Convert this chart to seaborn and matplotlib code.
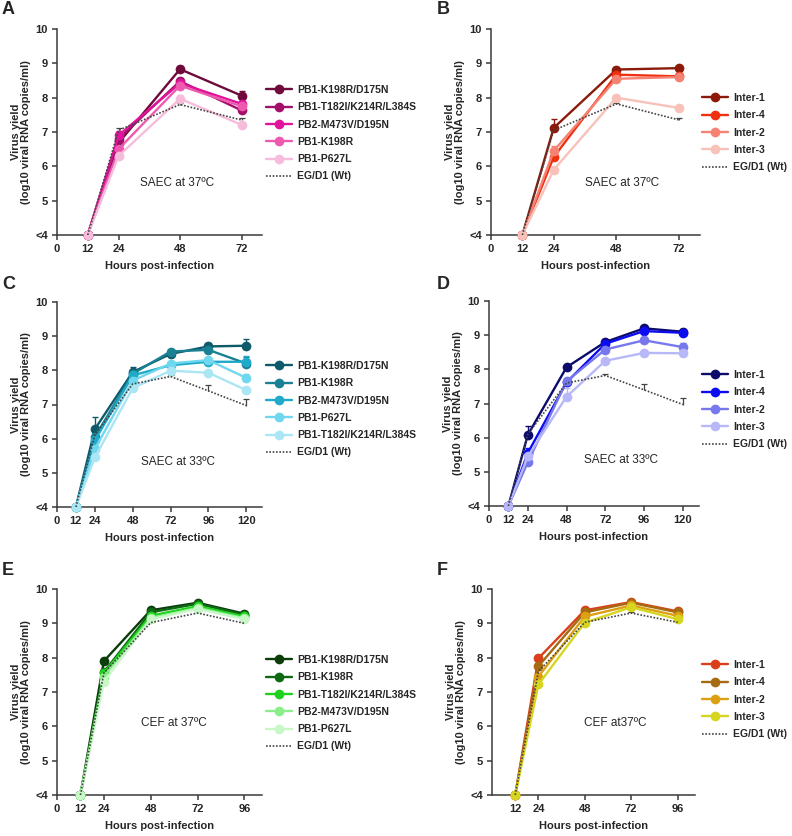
import numpy as np
import pandas as pd
import matplotlib
matplotlib.use('Agg')
import matplotlib.pyplot as plt
from matplotlib.lines import Line2D
import seaborn as sns

sns.set_style('ticks')
plt.rcParams['font.family'] = ['Liberation Sans', 'DejaVu Sans']
plt.rcParams['font.weight'] = 'bold'

# %% data ---------------------------------------------------------------
hours_37 = [12, 24, 48, 72]
hours_33 = [12, 24, 48, 72, 96, 120]
hours_cef = [12, 24, 48, 72, 96]

wt_label = 'EG/D1 (Wt)'

# A - SAEC 37ºC, PB mutants
a_names = ['PB1-K198R/D175N', 'PB1-T182I/K214R/L384S', 'PB2-M473V/D195N', 'PB1-K198R', 'PB1-P627L']
a_colors = ['#6e0a3c', '#a3106a', '#e0149a', '#ee5aaf', '#f6bcdb']
a_vals = [[4, 6.68, 8.83, 8.06],
          [4, 6.80, 8.48, 7.63],
          [4, 6.90, 8.42, 7.82],
          [4, 6.50, 8.35, 7.75],
          [4, 6.30, 7.97, 7.21]]
a_err = [[0, 0.10, 0.08, 0.12],
         [0, 0.15, 0.10, 0.08],
         [0, 0.12, 0.10, 0.08],
         [0, 0.10, 0.08, 0.08],
         [0, 0.08, 0.10, 0.05]]
a_wt = [4, 7.05, 7.80, 7.35]
a_wt_err = [0, 0.08, 0.04, 0.05]

# B - SAEC 37ºC, intermediates
b_names = ['Inter-1', 'Inter-4', 'Inter-2', 'Inter-3']
b_colors = ['#8b1a0a', '#f03010', '#f58272', '#f8c2ba']
b_vals = [[4, 7.12, 8.82, 8.86],
          [4, 6.27, 8.67, 8.62],
          [4, 6.45, 8.55, 8.60],
          [4, 5.90, 8.00, 7.70]]
b_err = [[0, 0.27, 0.08, 0.05],
         [0, 0.05, 0.05, 0.05],
         [0, 0.15, 0.05, 0.05],
         [0, 0.05, 0.05, 0.10]]
b_wt = [4, 7.05, 7.82, 7.35]
b_wt_err = [0, 0.05, 0.03, 0.06]

# C - SAEC 33ºC, PB mutants
c_names = ['PB1-K198R/D175N', 'PB1-K198R', 'PB2-M473V/D195N', 'PB1-P627L', 'PB1-T182I/K214R/L384S']
c_colors = ['#0c5a6a', '#1a8093', '#1eaac8', '#6fd8ee', '#aae6f4']
c_vals = [[4, 6.28, 7.95, 8.48, 8.70, 8.72],
          [4, 6.05, 7.90, 8.55, 8.60, 8.20],
          [4, 5.95, 7.85, 8.15, 8.25, 8.25],
          [4, 5.70, 7.70, 8.20, 8.30, 7.78],
          [4, 5.45, 7.48, 7.99, 7.93, 7.42]]
c_err = [[0, 0.35, 0.15, 0.05, 0.05, 0.20],
         [0, 0.10, 0.10, 0.05, 0.05, 0.20],
         [0, 0.10, 0.05, 0.05, 0.05, 0.18],
         [0, 0.10, 0.05, 0.05, 0.05, 0.10],
         [0, 0.08, 0.05, 0.05, 0.05, 0.05]]
c_wt = [4, 6.10, 7.60, 7.82, 7.40, 6.97]
c_wt_err = [0, 0.05, 0.05, 0.04, 0.17, 0.20]

# D - SAEC 33ºC, intermediates
d_names = ['Inter-1', 'Inter-4', 'Inter-2', 'Inter-3']
d_colors = ['#0b0b6b', '#0c0cf0', '#7878ee', '#b8b8f8']
d_vals = [[4, 6.08, 8.06, 8.80, 9.20, 9.10],
          [4, 5.55, 7.62, 8.75, 9.12, 9.07],
          [4, 5.28, 7.65, 8.58, 8.85, 8.65],
          [4, 5.45, 7.20, 8.25, 8.48, 8.47]]
d_err = [[0, 0.25, 0.08, 0.04, 0.08, 0.08],
         [0, 0.15, 0.10, 0.05, 0.05, 0.05],
         [0, 0.05, 0.10, 0.05, 0.05, 0.12],
         [0, 0.05, 0.25, 0.05, 0.04, 0.04]]
d_wt = [4, 6.10, 7.60, 7.82, 7.40, 6.97]
d_wt_err = [0, 0.05, 0.05, 0.05, 0.17, 0.18]

# E - CEF 37ºC, PB mutants
e_names = ['PB1-K198R/D175N', 'PB1-K198R', 'PB1-T182I/K214R/L384S', 'PB2-M473V/D195N', 'PB1-P627L']
e_colors = ['#0b3d0b', '#0e6a12', '#1ed21e', '#8aee8a', '#c8f7c8']
e_vals = [[4, 7.90, 9.38, 9.60, 9.28],
          [4, 7.58, 9.32, 9.57, 9.25],
          [4, 7.55, 9.22, 9.50, 9.20],
          [4, 7.45, 9.15, 9.45, 9.15],
          [4, 7.30, 9.12, 9.42, 9.12]]
e_err = [[0, 0.05, 0.05, 0.05, 0.05]] * 5
e_wt = [4, 7.55, 9.02, 9.30, 9.00]
e_wt_err = [0, 0.05, 0.03, 0.03, 0.03]

# F - CEF 37ºC, intermediates
f_names = ['Inter-1', 'Inter-4', 'Inter-2', 'Inter-3']
f_colors = ['#d9401a', '#a66a10', '#dca012', '#d6d620']
f_vals = [[4, 7.98, 9.38, 9.62, 9.35],
          [4, 7.75, 9.32, 9.60, 9.32],
          [4, 7.45, 9.20, 9.52, 9.22],
          [4, 7.22, 9.02, 9.47, 9.12]]
f_err = [[0, 0.05, 0.05, 0.05, 0.05]] * 4
f_wt = [4, 7.60, 9.03, 9.30, 9.03]
f_wt_err = [0, 0.05, 0.03, 0.03, 0.03]

# %% figure ---------------------------------------------------------------
W, H = 792, 836
fig = plt.figure(figsize=(W / 100, H / 100), dpi=100)

def px_axes(left, top, right, bottom):
    return fig.add_axes([left / W, 1 - bottom / H, (right - left) / W, (bottom - top) / H])

WT_COLOR = '#444444'
AX_COLOR = '#3a3a3a'

def panel(ax, hours, names, colors, vals, errs, wt, wt_err, xticks, xlim,
          note, note_xy, letter, letter_xy, leg_xy):
    rows = []
    for n, v in zip(names, vals):
        for h, y in zip(hours, v):
            rows.append({'hours': h, 'yield': y, 'strain': n})
    df = pd.DataFrame(rows)

    # upper-only error bars
    for c, v, e in zip(colors, vals, errs):
        v = np.array(v); e = np.array(e)
        m = e > 0
        h = np.array(hours)[m]
        ax.vlines(h, v[m], v[m] + e[m], color=c, lw=1.0, zorder=2)
        ax.plot(h, v[m] + e[m], ls='none', marker='_', ms=5, mew=1.0, color=c, zorder=2)
    wv = np.array(wt); we = np.array(wt_err); m = we > 0
    ax.vlines(np.array(hours)[m], wv[m], wv[m] + we[m], color=WT_COLOR, lw=0.9, zorder=2)
    ax.plot(np.array(hours)[m], wv[m] + we[m], ls='none', marker='_', ms=5, mew=0.9,
            color=WT_COLOR, zorder=2)

    sns.lineplot(data=df, x='hours', y='yield', hue='strain', hue_order=names,
                 palette=colors, marker='o', markersize=7, markeredgewidth=0,
                 linewidth=1.7, legend=False, errorbar=None, ax=ax, clip_on=False,
                 zorder=3)
    ax.plot(hours, wt, color=WT_COLOR, linestyle=(0, (1, 1)), lw=1.2, zorder=4)

    ax.set_xlim(*xlim)
    ax.set_ylim(4, 10)
    ax.set_xticks(xticks)
    ax.set_xticklabels([str(t) for t in xticks])
    ax.set_yticks([4, 5, 6, 7, 8, 9, 10])
    ax.set_yticklabels(['<4', '5', '6', '7', '8', '9', '10'])
    ax.set_xlabel('Hours post-infection', fontsize=8, fontweight='bold', labelpad=5)
    ax.set_ylabel('Virus yield\n(log10 viral RNA copies/ml)', fontsize=8,
                  fontweight='bold', labelpad=3, linespacing=1.0)
    sns.despine(ax=ax)
    for s in ['left', 'bottom']:
        ax.spines[s].set_color(AX_COLOR)
        ax.spines[s].set_linewidth(1.1)
    ax.tick_params(axis='both', direction='out', length=3.5, width=1.1, color=AX_COLOR,
                   labelsize=8, pad=3)
    for lab in ax.get_xticklabels() + ax.get_yticklabels():
        lab.set_fontweight('bold')

    ax.text(note_xy[0], note_xy[1], note, fontsize=8.5, fontweight='normal',
            ha='center', va='center')
    fig.text(letter_xy[0] / W, 1 - letter_xy[1] / H, letter, fontsize=13,
             fontweight='bold', ha='left', va='top')

    handles = [Line2D([], [], color=c, marker='o', ms=7, mew=0, lw=1.7) for c in colors]
    handles.append(Line2D([], [], color=WT_COLOR, linestyle=(0, (1, 1)), lw=1.2))
    fig.legend(handles, names + [wt_label], loc='upper left',
               bbox_to_anchor=(leg_xy[0] / W, 1 - leg_xy[1] / H),
               bbox_transform=fig.transFigure, frameon=False, borderpad=0,
               borderaxespad=0, handlelength=2.5, handletextpad=0.5,
               labelspacing=0.7, prop={'size': 7.5, 'weight': 'bold'})

axA = px_axes(57, 29, 262, 235)
panel(axA, hours_37, a_names, a_colors, a_vals, a_err, a_wt, a_wt_err,
      [0, 12, 24, 48, 72], (0, 80), 'SAEC at 37ºC', (47, 5.5), 'A', (2, 1), (266, 85))

axB = px_axes(491, 29, 700, 235)
panel(axB, hours_37, b_names, b_colors, b_vals, b_err, b_wt, b_wt_err,
      [0, 12, 24, 48, 72], (0, 80), 'SAEC at 37ºC', (50, 5.5), 'B', (437, 1), (702, 93))

axC = px_axes(57, 302, 262, 507)
panel(axC, hours_33, c_names, c_colors, c_vals, c_err, c_wt, c_wt_err,
      [0, 12, 24, 48, 72, 96, 120], (0, 130), 'SAEC at 33ºC', (77, 5.32), 'C', (2, 276), (266, 361))

axD = px_axes(489, 301, 699, 506)
panel(axD, hours_33, d_names, d_colors, d_vals, d_err, d_wt, d_wt_err,
      [0, 12, 24, 48, 72, 96, 120], (0, 130), 'SAEC at 33ºC', (82, 5.35), 'D', (437, 276), (702, 370))

axE = px_axes(57, 589, 262, 795)
panel(axE, hours_cef, e_names, e_colors, e_vals, e_err, e_wt, e_wt_err,
      [0, 12, 24, 48, 72, 96], (0, 105), 'CEF at 37ºC', (60, 6.1), 'E', (2, 562), (266, 655))

axF = px_axes(492, 589, 695, 795)
panel(axF, hours_cef, f_names, f_colors, f_vals, f_err, f_wt, f_wt_err,
      [12, 24, 48, 72, 96], (0, 105), 'CEF at37ºC', (64, 6.1), 'F', (437, 562), (702, 660))

fig.savefig('out.png', dpi=100)
